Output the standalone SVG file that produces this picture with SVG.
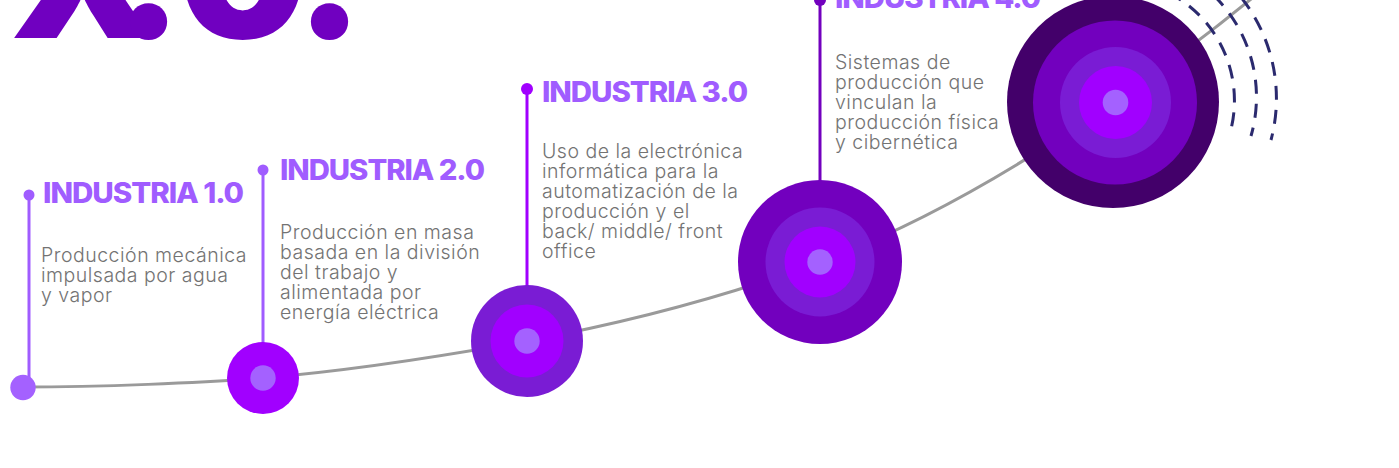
<svg xmlns="http://www.w3.org/2000/svg" width="1399" height="468" viewBox="0 0 1399 468">
<style>
.big{font-family:Inter,"Liberation Sans",sans-serif;font-weight:900;font-size:185px;fill:#7000C0}
.ttl{font-family:Inter,"Liberation Sans",sans-serif;font-weight:800;font-size:28px;fill:#A05CFF;letter-spacing:-1px}
.dsc{font-family:Inter,"Liberation Sans",sans-serif;font-weight:300;font-size:19.5px;fill:#737373;letter-spacing:0.5px}
.stem{stroke-width:3;fill:none}
.c0{fill:#43006A}.c1{fill:#7200BE}.c2{fill:#7A1CD4}.c3{fill:#A100FF}.c4{fill:#A461FF}
</style>
<rect width="1399" height="468" fill="#fff"/>
<text class="big" x="10 114 177 295" y="38">X.0.</text>
<g id="connectors">
<path d="M22,387 C100,387 200,383 263,378 C350,370.8 440,356.7 527,341 C625,323 722,298 820,262 C918,226 1015,170 1113,102 C1160,70 1220,25 1262,-10" fill="none" stroke="#9A9A9A" stroke-width="3"/>
<g fill="none" stroke="#2B2A6E" stroke-width="3" stroke-dasharray="14 10">
<path d="M1169,-7 A121,121 0 0 1 1230,133"/>
<path d="M1195,-20 A142,142 0 0 1 1251,136"/>
<path d="M1225,-20 A162,162 0 0 1 1271,140"/>
</g>
</g>
<g id="node1">
<line class="stem" x1="29" y1="195" x2="29" y2="378" stroke="#A05CFF"/>
<circle cx="29" cy="195" r="5.5" fill="#A05CFF"/>
<circle cx="23" cy="387.5" r="12.7" class="c4"/>
<text class="ttl" x="43" y="203" textLength="200" lengthAdjust="spacingAndGlyphs">INDUSTRIA 1.0</text>
<text class="dsc" y="262"><tspan x="41">Producción mecánica</tspan><tspan x="41" dy="20">impulsada por agua</tspan><tspan x="41" dy="20">y vapor</tspan></text>
</g>
<g id="node2">
<line class="stem" x1="263" y1="170" x2="263" y2="345" stroke="#A05CFF"/>
<circle cx="263" cy="170" r="5.5" fill="#A05CFF"/>
<circle cx="263" cy="378" r="36" class="c3"/>
<circle cx="263" cy="378" r="12.7" class="c4"/>
<text class="ttl" x="280" y="180" textLength="204" lengthAdjust="spacingAndGlyphs">INDUSTRIA 2.0</text>
<text class="dsc" y="239"><tspan x="280">Producción en masa</tspan><tspan x="280" dy="20">basada en la división</tspan><tspan x="280" dy="20">del trabajo y</tspan><tspan x="280" dy="20">alimentada por</tspan><tspan x="280" dy="20">energía eléctrica</tspan></text>
</g>
<g id="node3">
<line class="stem" x1="527" y1="89" x2="527" y2="290" stroke="#A100FF"/>
<circle cx="527" cy="89" r="6" fill="#A100FF"/>
<circle cx="527" cy="341" r="56" class="c2"/>
<circle cx="527" cy="341" r="36.5" class="c3"/>
<circle cx="527" cy="341" r="12.7" class="c4"/>
<text class="ttl" x="542" y="102" textLength="205" lengthAdjust="spacingAndGlyphs">INDUSTRIA 3.0</text>
<text class="dsc" y="158"><tspan x="542">Uso de la electrónica</tspan><tspan x="542" dy="20">informática para la</tspan><tspan x="542" dy="20">automatización de la</tspan><tspan x="542" dy="20">producción y el</tspan><tspan x="542" dy="20">back/ middle/ front</tspan><tspan x="542" dy="20">office</tspan></text>
</g>
<g id="node4">
<line class="stem" x1="820" y1="0" x2="820" y2="185" stroke="#7200BE"/>
<circle cx="820" cy="0" r="6" fill="#7200BE"/>
<circle cx="820" cy="262" r="82" class="c1"/>
<circle cx="820" cy="262" r="54.5" class="c2"/>
<circle cx="820" cy="262" r="35.5" class="c3"/>
<circle cx="820" cy="262" r="12.7" class="c4"/>
<text class="ttl" x="835" y="8" textLength="205" lengthAdjust="spacingAndGlyphs">INDUSTRIA 4.0</text>
<text class="dsc" y="69"><tspan x="835">Sistemas de</tspan><tspan x="835" dy="20">producción que</tspan><tspan x="835" dy="20">vinculan la</tspan><tspan x="835" dy="20">producción física</tspan><tspan x="835" dy="20">y cibernética</tspan></text>
</g>
<g id="node5">
<circle cx="1113" cy="102" r="106" class="c0"/>
<circle cx="1115" cy="102.5" r="82" class="c1"/>
<circle cx="1115.5" cy="102.5" r="55.5" class="c2"/>
<circle cx="1115.5" cy="102.5" r="36.5" class="c3"/>
<circle cx="1115.5" cy="102.5" r="12.8" class="c4"/>
</g>
</svg>
